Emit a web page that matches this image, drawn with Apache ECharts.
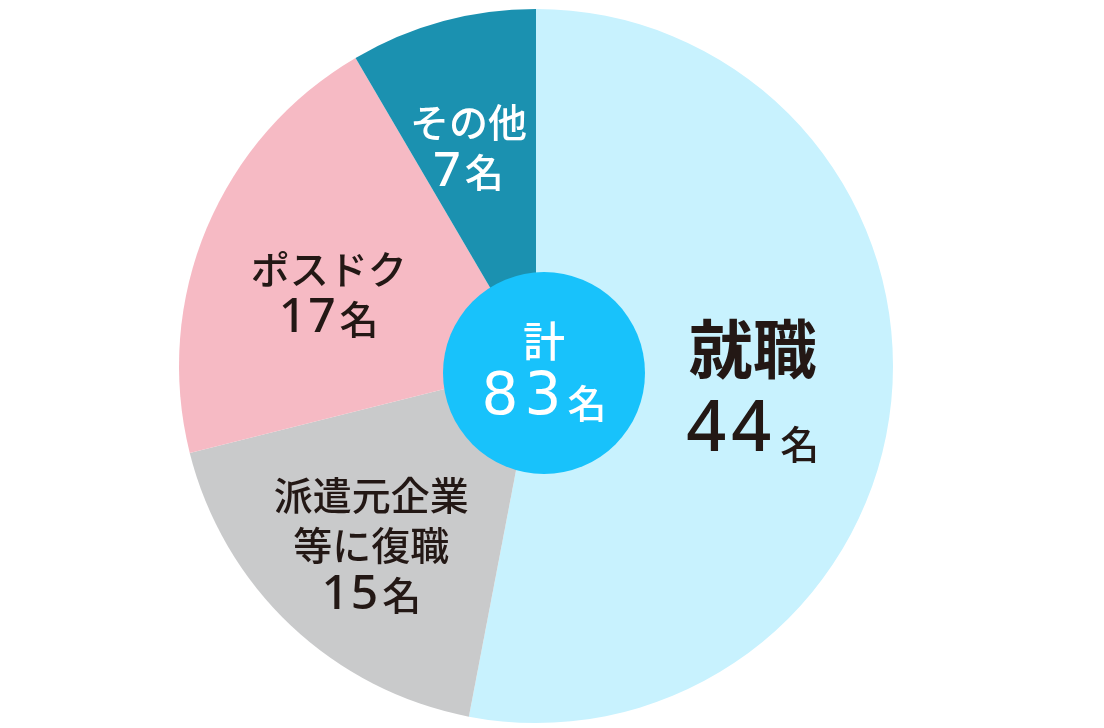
<!DOCTYPE html>
<html lang="ja">
<head>
<meta charset="utf-8">
<title>進路内訳</title>
<script src="https://cdn.jsdelivr.net/npm/echarts@6/dist/echarts.min.js"></script>
<style>
  html, body { margin: 0; padding: 0; background: #fff; }
  #main { width: 1104px; height: 728px; }
</style>
</head>
<body>
<div id="main"></div>
<script>
// data
var categories = ['就職', '派遣元企業\n等に復職', 'ポスドク', 'その他'];
var counts = [44, 15, 17, 7];
var unit = '名';
var totalLabel = '計';

var colors = ['#c8f2fe', '#c9cacb', '#f6bac4', '#1b91b0'];
// label nudges from the default inside spot
var labelShift = [[36, 7], [-40, 47], [-40, -2], [-20, -44]];

var total = counts.reduce(function (a, b) { return a + b; }, 0);

var JP = 'Noto Sans CJK JP';
var NUM = 'Noto Sans';
var NUM_C = 'DejaVu Sans';

// each digit gets its own token so it can be spaced out a little
function digits(n, key) {
    return String(n).split('').map(function (d) { return '{' + key + '|' + d + '}'; }).join('');
}

var chart = echarts.init(document.getElementById('main'));

var pieData = categories.map(function (name, i) {
    var big = i === 0;
    return {
        name: name,
        value: counts[i],
        itemStyle: { color: colors[i] },
        label: {
            color: i === 3 ? '#ffffff' : '#231815',
            formatter: big
                ? '{title|' + name + '}\n' + digits(counts[i], 'num') + '{unit|' + unit + '}'
                : name.split('\n').map(function (s) { return '{t|' + s + '}'; }).join('\n') +
                  '\n' + digits(counts[i], 'n') + '{u|' + unit + '}',
            rich: big ? {
                title: { fontSize: 64, fontWeight: 'bold', lineHeight: 82, fontFamily: JP },
                num: { fontSize: 70, fontWeight: 500, lineHeight: 82, fontFamily: NUM, padding: [0, 5, 0, 0] },
                unit: { fontSize: 39, fontWeight: 500, lineHeight: 82, fontFamily: JP, verticalAlign: 'bottom', padding: [0, 0, 8, 4] }
            } : {
                t: { fontSize: 39, fontWeight: 500, lineHeight: 50, fontFamily: JP },
                n: { fontSize: 48, fontWeight: 500, lineHeight: 50, fontFamily: NUM, padding: [0, 2, 0, 0] },
                u: { fontSize: 39, fontWeight: 500, lineHeight: 50, fontFamily: JP, padding: [0, 0, 0, 2] }
            }
        }
    };
});

var option = {
    animation: false,
    series: [{
        type: 'pie',
        center: [536, 366],
        radius: [0, 357],
        startAngle: 90,
        clockwise: true,
        silent: true,
        label: {
            position: 'inside',
            fontFamily: JP,
            align: 'center'
        },
        labelLine: { show: false },
        labelLayout: function (params) {
            var s = labelShift[params.dataIndex];
            return { dx: s[0], dy: s[1] };
        },
        data: pieData
    }, {
        type: 'pie',
        center: [544, 373],
        radius: [0, 101],
        silent: true,
        label: {
            position: 'center',
            formatter: '{k|' + totalLabel + '}\n' + digits(total, 'num') + '{unit|' + unit + '}',
            color: '#ffffff',
            rich: {
                k: { fontSize: 42, fontWeight: 500, lineHeight: 52, fontFamily: JP, color: '#fff' },
                num: { fontSize: 58, fontWeight: 'normal', lineHeight: 64, fontFamily: NUM_C, color: '#fff', padding: [0, 6, 0, 0] },
                unit: { fontSize: 39, fontWeight: 500, lineHeight: 64, fontFamily: JP, color: '#fff', verticalAlign: 'bottom', padding: [0, 0, 8, 0] }
            }
        },
        labelLine: { show: false },
        data: [{ name: totalLabel, value: total, itemStyle: { color: '#18c2fb' } }]
    }]
};

chart.setOption(option);
</script>
</body>
</html>
